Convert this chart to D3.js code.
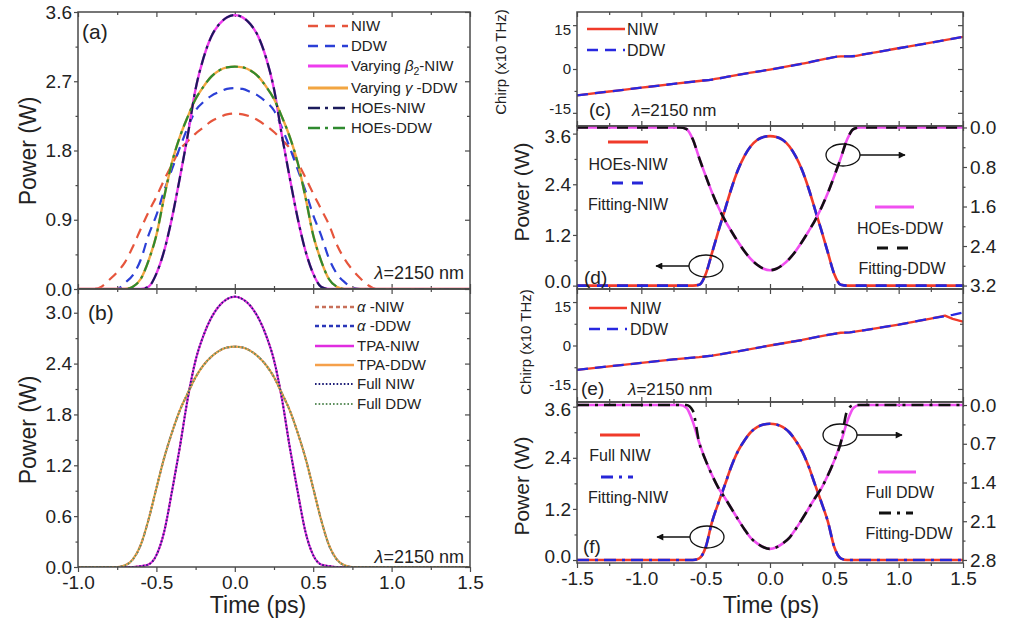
<!DOCTYPE html>
<html>
<head>
<meta charset="utf-8">
<script src="https://cdn.jsdelivr.net/npm/d3@7"></script>
<style>
  body { margin: 0; background: #fff; }
  svg text { font-family: "Liberation Sans", Arial, Helvetica, sans-serif; fill: #222; }
</style>
</head>
<body>
<svg id="fig" width="1016" height="623"></svg>
<script>
// ---------------- data ----------------
// time grid (ps) for panels (a) and (b)
const tAB = [-1.0,-0.9,-0.85,-0.8,-0.75,-0.7,-0.65,-0.6,-0.55,-0.5,-0.45,-0.4,-0.35,-0.3,-0.25,-0.2,-0.15,-0.1,-0.05,0,
             0.05,0.1,0.15,0.2,0.25,0.3,0.35,0.4,0.45,0.5,0.55,0.6,0.65,0.7,0.75,0.8,0.85,0.9,1.0,1.5];

// (a) output power (W)
const niwA       = [0,0,0.03,0.12,0.22,0.35,0.55,0.78,1.00,1.20,1.42,1.62,1.81,1.92,2.02,2.10,2.18,2.23,2.27,2.28,
                    2.27,2.24,2.19,2.12,2.04,1.94,1.83,1.65,1.45,1.24,1.04,0.84,0.58,0.39,0.25,0.14,0.05,0,0,0];
const ddwA       = [0,0,0,0,0,0.08,0.18,0.38,0.70,0.96,1.28,1.56,1.84,2.10,2.32,2.43,2.51,2.56,2.60,2.61,
                    2.60,2.56,2.51,2.43,2.32,2.10,1.84,1.56,1.28,0.96,0.70,0.40,0.20,0.09,0.02,0,0,0,0,0];
const varyBetaA  = [0,0,0,0,0,0,0,0,0.03,0.20,0.50,0.93,1.45,2.00,2.60,3.00,3.28,3.44,3.53,3.56,
                    3.53,3.44,3.28,3.00,2.60,2.00,1.45,0.93,0.50,0.20,0.03,0,0,0,0,0,0,0,0,0];
const varyGammaA = [0,0,0,0,0,0,0.03,0.13,0.37,0.70,1.20,1.65,1.98,2.24,2.47,2.63,2.76,2.84,2.88,2.89,
                    2.88,2.84,2.76,2.63,2.47,2.24,1.98,1.65,1.20,0.70,0.37,0.13,0.03,0,0,0,0,0,0,0];
const hoesNiwA   = [0,0,0,0,0,0,0,0,0.03,0.20,0.50,0.93,1.45,2.00,2.60,3.00,3.28,3.44,3.53,3.56,
                    3.53,3.44,3.28,3.00,2.60,2.00,1.45,0.93,0.50,0.20,0.03,0,0,0,0,0,0,0,0,0];
const hoesDdwA   = [0,0,0,0,0,0,0.03,0.13,0.37,0.70,1.20,1.65,1.98,2.24,2.47,2.63,2.76,2.84,2.88,2.89,
                    2.88,2.84,2.76,2.63,2.47,2.24,1.98,1.65,1.20,0.70,0.37,0.13,0.03,0,0,0,0,0,0,0];

// (b) output power (W)
const alphaNiwB  = [0,0,0,0,0,0,0,0.01,0.03,0.14,0.42,0.90,1.42,1.99,2.44,2.73,2.94,3.08,3.16,3.19,
                    3.16,3.08,2.94,2.73,2.44,1.99,1.42,0.90,0.42,0.14,0.03,0.01,0,0,0,0,0,0,0,0];
const alphaDdwB  = [0,0,0,0,0,0.02,0.09,0.26,0.56,0.93,1.29,1.59,1.85,2.05,2.24,2.38,2.48,2.55,2.59,2.60,
                    2.59,2.55,2.48,2.38,2.24,2.05,1.85,1.59,1.29,0.93,0.56,0.26,0.09,0.02,0,0,0,0,0,0];
const tpaNiwB    = [0,0,0,0,0,0,0,0.01,0.03,0.14,0.42,0.90,1.42,1.99,2.44,2.73,2.94,3.08,3.16,3.19,
                    3.16,3.08,2.94,2.73,2.44,1.99,1.42,0.90,0.42,0.14,0.03,0.01,0,0,0,0,0,0,0,0];
const tpaDdwB    = [0,0,0,0,0,0.02,0.09,0.26,0.56,0.93,1.29,1.59,1.85,2.05,2.24,2.38,2.48,2.55,2.59,2.60,
                    2.59,2.55,2.48,2.38,2.24,2.05,1.85,1.59,1.29,0.93,0.56,0.26,0.09,0.02,0,0,0,0,0,0];
const fullNiwB   = [0,0,0,0,0,0,0,0.01,0.03,0.14,0.42,0.90,1.42,1.99,2.44,2.73,2.94,3.08,3.16,3.19,
                    3.16,3.08,2.94,2.73,2.44,1.99,1.42,0.90,0.42,0.14,0.03,0.01,0,0,0,0,0,0,0,0];
const fullDdwB   = [0,0,0,0,0,0.02,0.09,0.26,0.56,0.93,1.29,1.59,1.85,2.05,2.24,2.38,2.48,2.55,2.59,2.60,
                    2.59,2.55,2.48,2.38,2.24,2.05,1.85,1.59,1.29,0.93,0.56,0.26,0.09,0.02,0,0,0,0,0,0];

// chirp (x10 THz), panels (c) and (e)
const tC    = [-1.5,-1.25,-1.0,-0.75,-0.55,-0.45,-0.25,0,0.25,0.45,0.55,0.62,0.75,1.0,1.25,1.5];
const niwC  = [-9.0,-7.7,-6.4,-5.1,-4.1,-3.6,-2.0,-0.2,1.8,3.6,4.3,4.3,5.2,7.1,9.0,11.0];
const ddwC  = [-9.0,-7.7,-6.4,-5.1,-4.1,-3.6,-2.0,-0.2,1.8,3.6,4.3,4.3,5.2,7.1,9.0,11.0];
const tE    = [-1.5,-1.25,-1.0,-0.75,-0.55,-0.45,-0.25,0,0.25,0.45,0.55,0.62,0.75,1.0,1.25,1.36,1.42,1.5];
const niwE  = [-8.4,-7.2,-6.0,-4.8,-4.0,-3.5,-2.0,0,1.9,3.7,4.4,4.5,5.4,7.2,9.3,10.3,9.2,8.2];
const ddwE  = [-8.4,-7.2,-6.0,-4.8,-4.0,-3.5,-2.0,0,1.9,3.7,4.4,4.5,5.4,7.2,9.3,10.1,10.6,11.4];

// time grid (ps) for panels (d) and (f)
const tDF = [-1.5,-1.0,-0.75,-0.7,-0.65,-0.6,-0.55,-0.5,-0.45,-0.4,-0.35,-0.3,-0.25,-0.2,-0.15,-0.1,-0.05,0,
             0.05,0.1,0.15,0.2,0.25,0.3,0.35,0.4,0.45,0.5,0.55,0.6,0.65,0.7,0.75,1.0,1.5];
// (d) NIW on left axis, DDW on reversed right axis (W)
const hoesNiwD = [0,0,0,0,0,0,0.02,0.27,0.78,1.30,1.80,2.30,2.73,3.06,3.30,3.45,3.52,3.54,
                  3.52,3.45,3.30,3.06,2.73,2.30,1.80,1.30,0.78,0.27,0.02,0,0,0,0,0,0];
const fitNiwD  = [0,0,0,0,0,0,0.02,0.27,0.78,1.30,1.80,2.30,2.73,3.06,3.30,3.45,3.52,3.54,
                  3.52,3.45,3.30,3.06,2.73,2.30,1.80,1.30,0.78,0.27,0.02,0,0,0,0,0,0];
const hoesDdwD = [0,0,0,0,0.03,0.24,0.62,0.98,1.32,1.62,1.88,2.10,2.31,2.50,2.66,2.78,2.86,2.89,
                  2.86,2.78,2.66,2.50,2.31,2.10,1.88,1.62,1.32,0.98,0.62,0.24,0.03,0,0,0,0];
const fitDdwD  = [0,0,0,0,0.03,0.24,0.62,0.98,1.32,1.62,1.88,2.10,2.31,2.50,2.66,2.78,2.86,2.89,
                  2.86,2.78,2.66,2.50,2.31,2.10,1.88,1.62,1.32,0.98,0.62,0.24,0.03,0,0,0,0];
// (f)
const fullNiwF = [0,0,0,0,0,0,0.04,0.30,0.90,1.35,1.77,2.20,2.55,2.80,3.00,3.12,3.18,3.20,
                  3.18,3.12,3.00,2.80,2.55,2.20,1.77,1.35,0.90,0.30,0.04,0,0,0,0,0,0];
const fitNiwF  = [0,0,0,0,0,0,0.04,0.30,0.90,1.35,1.77,2.20,2.55,2.80,3.00,3.12,3.18,3.20,
                  3.18,3.12,3.00,2.80,2.55,2.20,1.77,1.35,0.90,0.30,0.04,0,0,0,0,0,0];
const fullDdwF = [0,0,0,0,0.05,0.30,0.68,1.00,1.27,1.50,1.68,1.87,2.06,2.24,2.40,2.50,2.57,2.60,
                  2.57,2.50,2.40,2.24,2.06,1.87,1.68,1.50,1.27,1.00,0.68,0.30,0.05,0,0,0,0];
const fitDdwF  = [0,0,0,0,0,0.10,0.68,1.00,1.27,1.50,1.68,1.87,2.06,2.24,2.40,2.50,2.57,2.60,
                  2.57,2.50,2.40,2.24,2.06,1.87,1.68,1.50,1.27,1.00,0.68,0.10,0,0,0,0,0];

// tick values
const xTicksL = [-1.0,-0.5,0,0.5,1.0,1.5];
const xTicksR = [-1.5,-1.0,-0.5,0,0.5,1.0,1.5];
const yTicksA = [0,0.9,1.8,2.7,3.6];
const yTicksB = [0,0.6,1.2,1.8,2.4,3.0];
const yTicksChirp = [-15,0,15];
const yTicksPow = [0,1.2,2.4,3.6];
const yTicksDR = [0,0.8,1.6,2.4,3.2];
const yTicksFR = [0,0.7,1.4,2.1,2.8];

// ---------------- layout ----------------
const svg = d3.select("#fig");
const LX = [78, 470], RX = [577, 963];

const xL = d3.scaleLinear().domain([-1, 1.5]).range(LX);
const xR = d3.scaleLinear().domain([-1.5, 1.5]).range(RX);
const yA = d3.scaleLinear().domain([0, 3.6]).range([289, 12]);
const yB = d3.scaleLinear().domain([0, 3.28]).range([567, 289]);
const yC = d3.scaleLinear().domain([-19.5, 19.5]).range([126, 12]);
const yD = d3.scaleLinear().domain([-0.08, 3.78]).range([289, 126]);
const yDR = d3.scaleLinear().domain([-0.03, 3.27]).range([126, 289]);
const yE = d3.scaleLinear().domain([-19.5, 19.5]).range([402, 289]);
const yF = d3.scaleLinear().domain([-0.07, 3.71]).range([563, 402]);
const yFR = d3.scaleLinear().domain([-0.055, 2.855]).range([402, 563]);

const f1 = d => d.toFixed(1);
const f0 = d => String(d);
const AX = "#4a4a4a";
// label nudges where stacked panels share an edge
const chirpDy = d => d > 0 ? "0.6em" : d < 0 ? "0.05em" : "0.32em";
const powDy = d => d >= 3.6 ? "0.45em" : d === 0 ? "0.12em" : "0.32em";

const defs = svg.append("defs");
defs.append("marker").attr("id", "arrow").attr("viewBox", "0 0 10 10")
  .attr("refX", 9).attr("refY", 5).attr("markerWidth", 9).attr("markerHeight", 7)
  .attr("markerUnits", "userSpaceOnUse").attr("orient", "auto")
  .append("path").attr("d", "M0,0 L10,5 L0,10 z").attr("fill", "#111");

let clipId = 0;
function minorOf(ticks) {
  const out = [];
  for (let i = 0; i < ticks.length - 1; i++) out.push((ticks[i] + ticks[i + 1]) / 2);
  return out;
}

// frame, ticks and labels of one panel
function panel(x, y, o) {
  const [x0, x1] = x.range();
  const yb = y.range()[0], yt = y.range()[1];
  const g = svg.append("g");
  const id = "clip" + (clipId++);
  defs.append("clipPath").attr("id", id).append("rect")
    .attr("x", x0).attr("y", yt).attr("width", x1 - x0).attr("height", yb - yt);

  const style = sel => {
    sel.select(".domain").remove();
    sel.selectAll("line").attr("stroke", AX).attr("stroke-width", 1.2);
    sel.selectAll("text").attr("font-size", o.fs || 19).attr("fill", "#222")
      .style("font-family", '"Liberation Sans", Arial, sans-serif');
  };
  const xMinor = minorOf(o.xt);
  // bottom
  g.append("g").attr("transform", `translate(0,${yb})`)
    .call(d3.axisBottom(x).tickValues(o.xt).tickSize(o.xLab ? 5 : -5).tickPadding(4)
      .tickFormat(o.xLab ? f1 : "")).call(style);
  g.append("g").attr("transform", `translate(0,${yb})`)
    .call(d3.axisBottom(x).tickValues(xMinor).tickSize(o.xLab ? 3 : -3).tickFormat("")).call(style);
  // top
  g.append("g").attr("transform", `translate(0,${yt})`)
    .call(d3.axisTop(x).tickValues(o.xt).tickSize(-5).tickFormat("")).call(style);
  g.append("g").attr("transform", `translate(0,${yt})`)
    .call(d3.axisTop(x).tickValues(xMinor).tickSize(-3).tickFormat("")).call(style);
  // left
  const yMinor = minorOf(o.yt);
  g.append("g").attr("transform", `translate(${x0},0)`)
    .call(d3.axisLeft(y).tickValues(o.yt).tickSize(4).tickPadding(2).tickFormat(o.fy))
    .call(s => {
      style(s);
      s.selectAll("text").attr("font-size", o.fsy || 19);
      if (o.dy) s.selectAll(".tick text").attr("dy", o.dy);
    });
  g.append("g").attr("transform", `translate(${x0},0)`)
    .call(d3.axisLeft(y).tickValues(yMinor).tickSize(2.5).tickFormat("")).call(style);
  // right
  if (o.yR) {
    const rMinor = minorOf(o.yRt);
    g.append("g").attr("transform", `translate(${x1},0)`)
      .call(d3.axisRight(o.yR).tickValues(o.yRt).tickSize(4).tickPadding(3).tickFormat(f1)).call(style);
    g.append("g").attr("transform", `translate(${x1},0)`)
      .call(d3.axisRight(o.yR).tickValues(rMinor).tickSize(2.5).tickFormat("")).call(style);
  } else {
    g.append("g").attr("transform", `translate(${x1},0)`)
      .call(d3.axisRight(y).tickValues(o.yt).tickSize(-5).tickFormat("")).call(style);
    g.append("g").attr("transform", `translate(${x1},0)`)
      .call(d3.axisRight(y).tickValues(yMinor).tickSize(-3).tickFormat("")).call(style);
  }
  const plot = svg.append("g").attr("clip-path", `url(#${id})`);
  // frame drawn on top of the curves
  const frame = () => svg.append("rect").attr("x", x0).attr("y", yt)
    .attr("width", x1 - x0).attr("height", yb - yt)
    .attr("fill", "none").attr("stroke", AX).attr("stroke-width", 1.5);
  return { plot, frame };
}

function curve(g, xs, ys, x, y, st, kind) {
  const line = d3.line().x(d => x(d[0])).y(d => y(d[1]))
    .curve(kind === "lin" ? d3.curveLinear : d3.curveMonotoneX);
  g.append("path").datum(d3.zip(xs, ys)).attr("d", line)
    .attr("fill", "none").attr("stroke", st.c).attr("stroke-width", st.w)
    .attr("stroke-dasharray", st.d || null).attr("stroke-linejoin", "round");
}
function legLine(xa, xb, yy, st) {
  svg.append("line").attr("x1", xa).attr("x2", xb).attr("y1", yy).attr("y2", yy)
    .attr("stroke", st.c).attr("stroke-width", st.w + 0.4).attr("stroke-dasharray", st.d || null);
}
function label(xx, yy, parts, fs, anchor) {
  const t = svg.append("text").attr("x", xx).attr("y", yy).attr("font-size", fs)
    .attr("text-anchor", anchor || "start");
  parts.forEach(p => {
    if (typeof p === "string") t.append("tspan").text(p);
    else {
      const s = t.append("tspan").text(p.t);
      if (p.i) s.attr("font-style", "italic");
      if (p.sub) s.attr("font-size", fs * 0.7).attr("dy", 4);
      if (p.up) s.attr("dy", -4);
    }
  });
  return t;
}
function vtitle(xx, yy, txt, fs) {
  svg.append("text").attr("transform", `translate(${xx},${yy}) rotate(-90)`)
    .attr("text-anchor", "middle").attr("font-size", fs).text(txt);
}

// line styles
const S = {
  niwA:   { c: "#e6553c", w: 2.2, d: "10,7" },
  ddwA:   { c: "#2b3fd6", w: 2.2, d: "10,7" },
  beta:   { c: "#ee3cee", w: 2.4 },
  gamma:  { c: "#f2a541", w: 2.4 },
  hoesN:  { c: "#1b1b5c", w: 2.2, d: "12,5,3,5" },
  hoesD:  { c: "#2f8a2f", w: 2.2, d: "12,5,3,5" },
  alphaN: { c: "#c8705a", w: 2.0, d: "4,3" },
  alphaD: { c: "#2a36b8", w: 2.0, d: "4,3" },
  tpaN:   { c: "#e02ce0", w: 2.2 },
  tpaD:   { c: "#f5a04a", w: 2.2 },
  fullN:  { c: "#1e1e78", w: 1.8, d: "1.6,2" },
  fullD:  { c: "#5d8f5d", w: 1.8, d: "1.6,2" },
  redC:   { c: "#f03a2a", w: 2.3 },
  blueC:  { c: "#2828e0", w: 2.3, d: "11,7" },
  redD:   { c: "#f03a2a", w: 2.6 },
  blueD:  { c: "#2626d8", w: 2.6, d: "11,9" },
  magD:   { c: "#f050f0", w: 2.6 },
  blkD:   { c: "#111111", w: 2.6, d: "11,9" },
  blueF:  { c: "#2626d8", w: 2.6, d: "12,6,3,6" },
  blkF:   { c: "#111111", w: 2.6, d: "12,6,3,6" }
};

// ---------- (a) ----------
let P = panel(xL, yA, { xt: xTicksL, xLab: false, yt: yTicksA, fy: f1 });
curve(P.plot, tAB, niwA, xL, yA, S.niwA);
curve(P.plot, tAB, ddwA, xL, yA, S.ddwA);
curve(P.plot, tAB, varyBetaA, xL, yA, S.beta);
curve(P.plot, tAB, varyGammaA, xL, yA, S.gamma);
curve(P.plot, tAB, hoesNiwA, xL, yA, S.hoesN);
curve(P.plot, tAB, hoesDdwA, xL, yA, S.hoesD);
P.frame();
[[26, S.niwA, ["NIW"]], [46, S.ddwA, ["DDW"]],
 [66, S.beta, ["Varying ", { t: "β", i: 1 }, { t: "2", sub: 1 }, { t: "-NIW", up: 1 }]],
 [88, S.gamma, ["Varying ", { t: "γ", i: 1 }, " -DDW"]],
 [108, S.hoesN, ["HOEs-NIW"]], [128, S.hoesD, ["HOEs-DDW"]]
].forEach(([yy, st, txt]) => { legLine(308, 348, yy, st); label(351, yy + 5, txt, 15); });
label(82, 39, ["(a)"], 21);
label(464, 279, [{ t: "λ", i: 1 }, "=2150 nm"], 18, "end");

// ---------- (b) ----------
P = panel(xL, yB, { xt: xTicksL, xLab: true, yt: yTicksB, fy: f1 });
curve(P.plot, tAB, alphaNiwB, xL, yB, S.alphaN);
curve(P.plot, tAB, alphaDdwB, xL, yB, S.alphaD);
curve(P.plot, tAB, tpaNiwB, xL, yB, S.tpaN);
curve(P.plot, tAB, tpaDdwB, xL, yB, S.tpaD);
curve(P.plot, tAB, fullNiwB, xL, yB, S.fullN);
curve(P.plot, tAB, fullDdwB, xL, yB, S.fullD);
P.frame();
[[307, S.alphaN, [{ t: "α", i: 1 }, " -NIW"]], [326, S.alphaD, [{ t: "α", i: 1 }, " -DDW"]],
 [346, S.tpaN, ["TPA-NIW"]], [365, S.tpaD, ["TPA-DDW"]],
 [384, S.fullN, ["Full NIW"]], [404, S.fullD, ["Full DDW"]]
].forEach(([yy, st, txt]) => { legLine(315, 354, yy, st); label(357, yy + 5, txt, 15); });
label(88, 320, ["(b)"], 21);
label(464, 563, [{ t: "λ", i: 1 }, "=2150 nm"], 18, "end");

// ---------- (c) ----------
P = panel(xR, yC, { xt: xTicksR, xLab: false, yt: yTicksChirp, fy: f0, fsy: 15, dy: chirpDy });
curve(P.plot, tC, niwC, xR, yC, S.redC, "mono");
curve(P.plot, tC, ddwC, xR, yC, S.blueC, "mono");
P.frame();
legLine(587, 625, 29, S.redC); label(627, 35, ["NIW"], 16);
legLine(587, 625, 50, S.blueC); label(627, 56, ["DDW"], 16);
label(589, 116, ["(c)"], 19);
label(632, 116, [{ t: "λ", i: 1 }, "=2150 nm"], 17);

// ---------- (d) ----------
P = panel(xR, yD, { xt: xTicksR, xLab: false, yt: yTicksPow, fy: f1, yR: yDR, yRt: yTicksDR, dy: powDy });
curve(P.plot, tDF, hoesNiwD, xR, yD, S.redD);
curve(P.plot, tDF, fitNiwD, xR, yD, S.blueD);
curve(P.plot, tDF, hoesDdwD, xR, yDR, S.magD);
curve(P.plot, tDF, fitDdwD, xR, yDR, S.blkD);
P.frame();
legLine(608, 648, 142, S.redD); label(628, 170, ["HOEs-NIW"], 16, "middle");
legLine(612, 648, 183, S.blueD); label(628, 210, ["Fitting-NIW"], 16, "middle");
legLine(875, 914, 207, S.magD); label(900, 234, ["HOEs-DDW"], 16, "middle");
legLine(877, 914, 248, S.blkD); label(902, 274, ["Fitting-DDW"], 16, "middle");
label(584, 284, ["(d)"], 19);

// ---------- (e) ----------
P = panel(xR, yE, { xt: xTicksR, xLab: false, yt: yTicksChirp, fy: f0, fsy: 15, dy: chirpDy });
curve(P.plot, tE, niwE, xR, yE, S.redC, "lin");
curve(P.plot, tE, ddwE, xR, yE, S.blueC, "lin");
P.frame();
legLine(589, 627, 308, S.redC); label(630, 314, ["NIW"], 16);
legLine(589, 627, 329, S.blueC); label(630, 335, ["DDW"], 16);
label(581, 395, ["(e)"], 19);
label(628, 395, [{ t: "λ", i: 1 }, "=2150 nm"], 17);

// ---------- (f) ----------
P = panel(xR, yF, { xt: xTicksR, xLab: true, yt: yTicksPow, fy: f1, yR: yFR, yRt: yTicksFR, dy: powDy });
curve(P.plot, tDF, fullNiwF, xR, yF, S.redD);
curve(P.plot, tDF, fitNiwF, xR, yF, S.blueF);
curve(P.plot, tDF, fullDdwF, xR, yFR, S.magD);
curve(P.plot, tDF, fitDdwF, xR, yFR, S.blkF);
P.frame();
legLine(600, 640, 435, S.redD); label(620, 461, ["Full NIW"], 16, "middle");
legLine(601, 633, 477, S.blueF); label(628, 503, ["Fitting-NIW"], 16, "middle");
legLine(878, 916, 472, S.magD); label(900, 498, ["Full DDW"], 16, "middle");
legLine(879, 913, 513, S.blkF); label(909, 539, ["Fitting-DDW"], 16, "middle");
label(583, 553, ["(f)"], 19);

// axis-pointing ellipses with arrows
function marker(cx, cy, x2) {
  svg.append("ellipse").attr("cx", cx).attr("cy", cy).attr("rx", 17).attr("ry", 11)
    .attr("fill", "none").attr("stroke", "#111").attr("stroke-width", 1.3);
  const x1 = x2 < cx ? cx - 17 : cx + 17;
  svg.append("line").attr("x1", x1).attr("y1", cy).attr("x2", x2).attr("y2", cy)
    .attr("stroke", "#111").attr("stroke-width", 1.3).attr("marker-end", "url(#arrow)");
}
marker(706, 266, 656);
marker(843, 155, 905);
marker(707, 537, 657);
marker(840, 435, 902);

// axis titles
vtitle(36, 151, "Power (W)", 23);
vtitle(36, 430, "Power (W)", 23);
vtitle(506, 62, "Chirp (x10 THz)", 15);
vtitle(529, 192, "Power (W)", 21);
vtitle(531, 342, "Chirp (x10 THz)", 15);
vtitle(529, 486, "Power (W)", 21);
svg.append("text").attr("x", 258).attr("y", 613).attr("text-anchor", "middle").attr("font-size", 23).text("Time (ps)");
svg.append("text").attr("x", 771).attr("y", 613).attr("text-anchor", "middle").attr("font-size", 23).text("Time (ps)");
</script>
</body>
</html>
